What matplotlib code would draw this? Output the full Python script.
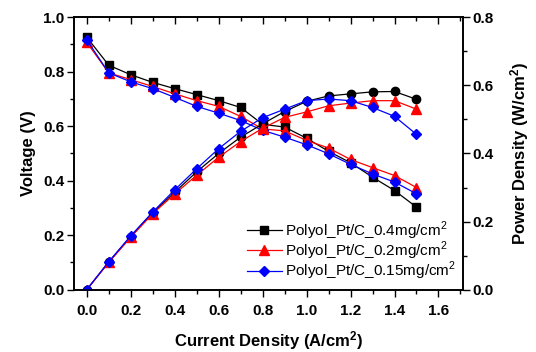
import matplotlib
matplotlib.use("Agg")
import matplotlib.pyplot as plt
from matplotlib.ticker import MultipleLocator

plt.rcParams['font.family'] = ['Liberation Sans', 'DejaVu Sans']
plt.rcParams['mathtext.fontset'] = 'custom'
plt.rcParams['mathtext.rm'] = 'Liberation Sans'
plt.rcParams['mathtext.bf'] = 'Liberation Sans:bold'

current = [0.0, 0.1, 0.2, 0.3, 0.4, 0.5, 0.6, 0.7, 0.8, 0.9, 1.0, 1.1, 1.2, 1.3, 1.4, 1.5]

volt_04 = [0.927, 0.824, 0.789, 0.761, 0.738, 0.716, 0.694, 0.669, 0.607, 0.597, 0.556, 0.508, 0.466, 0.413, 0.364, 0.303]
volt_02 = [0.908, 0.796, 0.771, 0.746, 0.719, 0.694, 0.673, 0.636, 0.590, 0.583, 0.548, 0.520, 0.478, 0.448, 0.419, 0.375]
volt_015 = [0.917, 0.796, 0.763, 0.738, 0.706, 0.673, 0.648, 0.621, 0.585, 0.560, 0.532, 0.499, 0.460, 0.425, 0.395, 0.352]

pow_04 = [0.0, 0.081, 0.156, 0.226, 0.286, 0.346, 0.400, 0.448, 0.487, 0.523, 0.553, 0.569, 0.575, 0.581, 0.582, 0.559]
pow_02 = [0.0, 0.080, 0.154, 0.223, 0.281, 0.336, 0.389, 0.435, 0.474, 0.506, 0.522, 0.540, 0.548, 0.555, 0.555, 0.530]
pow_015 = [0.0, 0.082, 0.158, 0.228, 0.293, 0.355, 0.414, 0.465, 0.505, 0.530, 0.555, 0.560, 0.555, 0.535, 0.509, 0.456]

labels = ['Polyol_Pt/C_0.4mg/cm$^2$', 'Polyol_Pt/C_0.2mg/cm$^2$', 'Polyol_Pt/C_0.15mg/cm$^2$']

fig = plt.figure(figsize=(5.36, 3.52), dpi=100)
ax = fig.add_axes([0.138, 0.177, 0.726, 0.774])
ax2 = ax.twinx()

ms = 5.5
lw = 0.9
l1, = ax.plot(current, volt_04, color='black', marker='s', ms=ms, lw=lw, label=labels[0])
l2, = ax.plot(current, volt_02, color='red', marker='^', ms=ms + 1, lw=lw, label=labels[1])
l3, = ax.plot(current, volt_015, color='blue', marker='D', ms=ms, lw=lw, label=labels[2])

ax2.plot(current, pow_04, color='black', marker='o', ms=ms + 0.5, lw=lw)
ax2.plot(current, pow_02, color='red', marker='^', ms=ms + 1, lw=lw)
ax2.plot(current, pow_015, color='blue', marker='D', ms=ms, lw=lw)

ax.set_xlim(-0.058, 1.712)
ax.set_ylim(0.0, 1.0)
ax2.set_ylim(0.0, 0.8)

ax.xaxis.set_major_locator(MultipleLocator(0.2))
ax.xaxis.set_minor_locator(MultipleLocator(0.1))
ax.yaxis.set_major_locator(MultipleLocator(0.2))
ax.yaxis.set_minor_locator(MultipleLocator(0.1))
ax2.yaxis.set_major_locator(MultipleLocator(0.2))
ax2.yaxis.set_minor_locator(MultipleLocator(0.1))

ax.tick_params(axis='x', which='major', direction='out', length=5, width=1, top=True, labeltop=False, pad=5)
ax.tick_params(axis='x', which='minor', direction='out', length=3, width=1, top=True)
ax.tick_params(axis='y', which='major', direction='out', length=5, width=1, pad=2)
ax.tick_params(axis='y', which='minor', direction='out', length=3, width=1)
ax2.tick_params(axis='y', which='major', direction='out', length=5, width=1, pad=2)
ax2.tick_params(axis='y', which='minor', direction='out', length=3, width=1)

# top ticks point inward
for t in ax.xaxis.get_major_ticks() + ax.xaxis.get_minor_ticks():
    t.tick2line.set_marker(matplotlib.lines.TICKDOWN)

for a in (ax, ax2):
    for s in a.spines.values():
        s.set_linewidth(1.2)

fmt = lambda v, p: f"{v:.1f}"
ax.xaxis.set_major_formatter(fmt)
ax.yaxis.set_major_formatter(fmt)
ax2.yaxis.set_major_formatter(fmt)

for lab in ax.get_xticklabels() + ax.get_yticklabels() + ax2.get_yticklabels():
    lab.set_fontweight('bold')
    lab.set_fontsize(11)

ax.set_xlabel('Current Density (A/cm$\\mathbf{^2}$)', fontsize=12, fontweight='bold', labelpad=8)
ax.set_ylabel('Voltage (V)', fontsize=12, fontweight='bold', labelpad=5)
ax2.set_ylabel('Power Density (W/cm$\\mathbf{^2}$)', fontsize=12, fontweight='bold', labelpad=10)

leg = ax.legend(handles=[l1, l2, l3], loc='lower right', bbox_to_anchor=(1.005, -0.005),
                frameon=False, fontsize=11, handlelength=2.3, handletextpad=0.2,
                labelspacing=-0.14, borderaxespad=0.2)

fig.savefig('out.png', dpi=100)
